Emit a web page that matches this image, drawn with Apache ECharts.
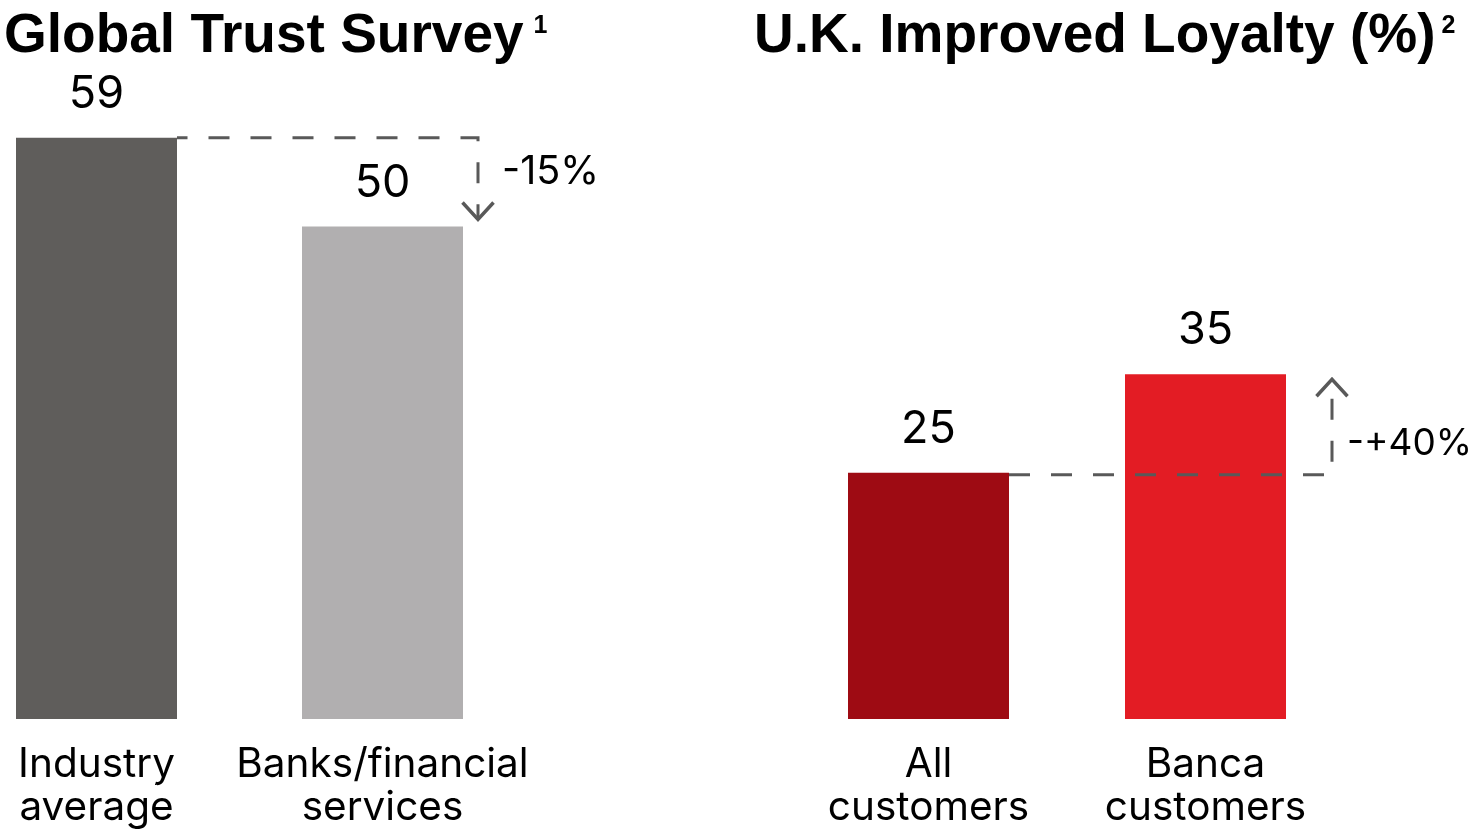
<!DOCTYPE html>
<html>
<head>
<meta charset="utf-8">
<script src="https://cdn.jsdelivr.net/npm/echarts@6/dist/echarts.min.js"></script>
<style>
html,body{margin:0;padding:0;background:#ffffff;}
#chart{width:1471px;height:838px;}
</style>
</head>
<body>
<div id="chart"></div>
<script>
// ---- data ----
const titles = ['Global Trust Survey', 'U.K. Improved Loyalty (%)'];
const footnoteMarks = ['1', '2'];
const trustCategories = ['Industry\naverage', 'Banks/financial\nservices'];
const trustValues = [59, 50];
const trustChangeLabel = '-15%';
const loyaltyCategories = ['All\ncustomers', 'Banca\ncustomers'];
const loyaltyValues = [25, 35];
const loyaltyChangeLabel = '-+40%';

// ---- styles ----
const FONT_REG = 'Inter, "Liberation Sans", Arial, sans-serif';
const FONT_BOLD = '"Liberation Sans", Arial, sans-serif';
const TRUST_COLORS = ['#5f5d5b', '#b1afb0'];
const LOYALTY_COLORS = ['#9e0b13', '#e31c24'];
const CONNECTOR_COLOR = '#595959';
const BAR_WIDTH = 161;

function makeConnector(opt) {
  return function (params, api) {
    const p0 = api.coord([api.value(0), api.value(1)]);
    const p1 = api.coord([api.value(2), api.value(3)]);
    const half = BAR_WIDTH / 2;
    const sx = p0[0] + half;
    const sy = p0[1] + opt.startDy;
    const vx = p1[0] + half + opt.dx;
    const ty = p1[1] + opt.tipDy;
    const dir = ty > sy ? 1 : -1;
    const armH = 17, armW = 15.5;
    const ly = sy + 0.37 * (ty - sy) + 4;
    return {
      type: 'group',
      children: [
        {
          type: 'polyline',
          shape: { points: [[sx, sy], [vx, sy], [vx, ty]] },
          style: { stroke: CONNECTOR_COLOR, lineWidth: 3, lineDash: [21, 21], lineDashOffset: opt.dashOffset, fill: null }
        },
        {
          type: 'polyline',
          shape: { points: [[vx - armW, ty - dir * armH], [vx, ty], [vx + armW, ty - dir * armH]] },
          style: { stroke: CONNECTOR_COLOR, lineWidth: 3.5, fill: null }
        },
        {
          type: 'text',
          style: {
            text: opt.text, x: vx + opt.labelDx, y: ly,
            align: 'left', verticalAlign: 'middle',
            fontFamily: FONT_REG, fontSize: opt.fontSize, fill: '#000'
          }
        }
      ]
    };
  };
}

const axisLabelStyle = {
  interval: 0, margin: 24, color: '#000',
  fontFamily: FONT_REG, fontSize: 40.5, lineHeight: 43.5
};
const valueLabelStyle = {
  show: true, position: 'top', distance: 21, color: '#000',
  fontFamily: FONT_REG, fontSize: 45
};

function titleRich(padLeft) {
  return {
    t: { fontFamily: FONT_BOLD, fontSize: 55, fontWeight: 'bold', color: '#000' },
    s: { fontFamily: FONT_BOLD, fontSize: 25, fontWeight: 'bold', color: '#000', verticalAlign: 'top', padding: [5, 0, 0, padLeft] }
  };
}

const chart = echarts.init(document.getElementById('chart'), null, { renderer: 'canvas' });
chart.setOption({
  animation: false,
  backgroundColor: '#ffffff',
  title: [
    { text: '{t|' + titles[0] + '}{s|' + footnoteMarks[0] + '}', left: 4, top: 9, padding: 0, textStyle: { rich: titleRich(10) } },
    { text: '{t|' + titles[1] + '}{s|' + footnoteMarks[1] + '}', left: 754, top: 9, padding: 0, textStyle: { rich: titleRich(6) } }
  ],
  grid: [
    { left: 96.5, width: 286, top: 128, height: 591, containLabel: false },
    { left: 928.5, width: 277, top: 128, height: 591, containLabel: false }
  ],
  xAxis: [
    { type: 'category', gridIndex: 0, boundaryGap: false, data: trustCategories, axisLine: { show: false }, axisTick: { show: false }, splitLine: { show: false }, axisLabel: axisLabelStyle },
    { type: 'category', gridIndex: 1, boundaryGap: false, data: loyaltyCategories, axisLine: { show: false }, axisTick: { show: false }, splitLine: { show: false }, axisLabel: axisLabelStyle }
  ],
  yAxis: [
    { type: 'value', gridIndex: 0, min: 0, max: 60, show: false },
    { type: 'value', gridIndex: 1, min: 0, max: 60, show: false }
  ],
  series: [
    {
      type: 'bar', xAxisIndex: 0, yAxisIndex: 0, barWidth: BAR_WIDTH, clip: false, data: trustValues,
      itemStyle: { color: p => TRUST_COLORS[p.dataIndex] }, label: valueLabelStyle, z: 2
    },
    {
      type: 'bar', xAxisIndex: 1, yAxisIndex: 1, barWidth: BAR_WIDTH, clip: false, data: loyaltyValues,
      itemStyle: { color: p => LOYALTY_COLORS[p.dataIndex] }, label: valueLabelStyle, z: 2
    },
    {
      type: 'custom', xAxisIndex: 0, yAxisIndex: 0, z: 5, silent: true, clip: false,
      data: [[0, trustValues[0], 1, trustValues[1]]],
      encode: { x: [0, 2], y: [1, 3] },
      renderItem: makeConnector({ startDy: 0, dx: 15, tipDy: -7, labelDx: 24, dashOffset: 10.5, fontSize: 39.5, text: trustChangeLabel })
    },
    {
      type: 'custom', xAxisIndex: 1, yAxisIndex: 1, z: 5, silent: true, clip: false,
      data: [[0, loyaltyValues[0], 1, loyaltyValues[1]]],
      encode: { x: [0, 2], y: [1, 3] },
      renderItem: makeConnector({ startDy: 2, dx: 46, tipDy: 5, labelDx: 15, dashOffset: 0, fontSize: 37, text: loyaltyChangeLabel })
    }
  ]
});
</script>
</body>
</html>
